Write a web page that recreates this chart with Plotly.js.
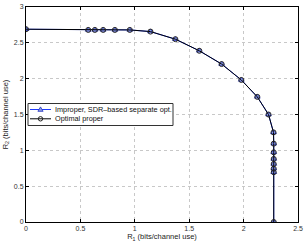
<!DOCTYPE html>
<html>
<head>
<meta charset="utf-8">
<script src="https://cdn.plot.ly/plotly-3.0.1.min.js"></script>
<style>html,body{margin:0;padding:0;background:#fff;}#chart{width:306px;height:245px;}</style>
</head>
<body>
<div id="chart"></div>
<script>
const r1 = [0, 0.572, 0.633, 0.709, 0.817, 0.954, 1.144, 1.373, 1.593, 1.798, 1.979, 2.126, 2.229, 2.275, 2.277, 2.277, 2.277, 2.277, 2.277, 2.277, 2.277];
const r2Improper = [2.69, 2.68, 2.68, 2.68, 2.68, 2.68, 2.657, 2.551, 2.389, 2.204, 1.982, 1.746, 1.5, 1.25, 1.093, 0.972, 0.88, 0.81, 0.745, 0.694, 0];
const r2Proper = [2.69, 2.68, 2.68, 2.68, 2.68, 2.68, 2.657, 2.551, 2.389, 2.204, 1.982, 1.746, 1.5, 1.25, 1.093, 0.972, 0.88, 0.81, 0.745, 0.694, 0];
const seriesNames = ["Improper, SDR\u2013based separate opt.", "Optimal proper"];
const xTicks = [0, 0.5, 1, 1.5, 2, 2.5];
const xTickText = ["0", "0.5", "1", "1.5", "2", "2.5"];
const yTicks = [0, 0.5, 1, 1.5, 2, 2.5, 3];
const yTickText = ["0", "0.5", "1", "1.5", "2", "2.5", "3"];

const fam = "Liberation Sans, Arial, sans-serif";
const font = {family: fam, size: 7, color: "#333"};
const blueLine = "#1f3cff", blueFill = "#8fa0e0", blueEdge = "#2030c0";
const traces = [
  {x: r1, y: r2Improper, name: seriesNames[0], mode: "lines+markers", showlegend: false,
   line: {color: blueLine, width: 1},
   marker: {symbol: "triangle-up", size: 5, color: blueFill, line: {color: blueEdge, width: 0.8}}},
  {x: r1, y: r2Proper, name: seriesNames[1], mode: "lines+markers", showlegend: false,
   line: {color: "#000", width: 1},
   marker: {symbol: "circle-open", size: 5, color: "#222", line: {color: "#222", width: 1}}}
];

// Manual compact legend (paper coordinates of the plot area)
const W = 272, H = 215, L = 26, T = 7;
const px = v => (v - L) / W;
const py = v => (T + H - v) / H;
const entryY = [109.5, 118.8];
const shapes = [
  {type: "rect", xref: "paper", yref: "paper", x0: px(28), x1: px(173), y0: py(125.5), y1: py(103.5),
   fillcolor: "#fff", line: {color: "#333", width: 1}, layer: "above"},
  {type: "line", xref: "paper", yref: "paper", x0: px(30), x1: px(51), y0: py(entryY[0]), y1: py(entryY[0]),
   line: {color: blueLine, width: 1}, layer: "above"},
  {type: "path", xref: "paper", yref: "paper", xsizemode: "pixel", ysizemode: "pixel",
   xanchor: px(40.5), yanchor: py(entryY[0]), path: "M-2.6,-1.8 L2.6,-1.8 L0,2.6 Z",
   fillcolor: blueFill, line: {color: blueEdge, width: 0.8}, layer: "above"},
  {type: "line", xref: "paper", yref: "paper", x0: px(30), x1: px(51), y0: py(entryY[1]), y1: py(entryY[1]),
   line: {color: "#000", width: 1}, layer: "above"},
  {type: "circle", xref: "paper", yref: "paper", xsizemode: "pixel", ysizemode: "pixel",
   xanchor: px(40.5), yanchor: py(entryY[1]), x0: -2.2, x1: 2.2, y0: -2.2, y1: 2.2,
   fillcolor: "rgba(0,0,0,0)", line: {color: "#222", width: 1}, layer: "above"}
];
const annotations = seriesNames.map((n, i) => ({
  xref: "paper", yref: "paper", x: px(53), y: py(entryY[i]), xanchor: "left", yanchor: "middle",
  text: n, showarrow: false, font: {family: fam, size: 7.3, color: "#111"}
}));

const axisCommon = {
  showline: true, mirror: "allticks", linecolor: "#000", linewidth: 1,
  ticks: "inside", ticklen: 3, tickcolor: "#000",
  showgrid: true, gridcolor: "#c8c8c8", griddash: "dot", gridwidth: 1,
  zeroline: false, tickfont: font
};
const layout = {
  width: 306, height: 245,
  margin: {l: L, r: 306 - L - W, t: T, b: 245 - T - H},
  paper_bgcolor: "#fff", plot_bgcolor: "#fff",
  showlegend: false,
  shapes: shapes, annotations: annotations,
  xaxis: Object.assign({}, axisCommon, {
    range: [0, 2.5], tickvals: xTicks, ticktext: xTickText,
    title: {text: "R<sub>1</sub> (bits/channel use)", font: {family: fam, size: 7.5, color: "#222"}, standoff: 2}
  }),
  yaxis: Object.assign({}, axisCommon, {
    range: [0, 3], tickvals: yTicks, ticktext: yTickText,
    title: {text: "R<sub>2</sub> (bits/channel use)", font: {family: fam, size: 7.5, color: "#222"}, standoff: 4}
  })
};
Plotly.newPlot("chart", traces, layout, {staticPlot: true, displayModeBar: false});
</script>
</body>
</html>
